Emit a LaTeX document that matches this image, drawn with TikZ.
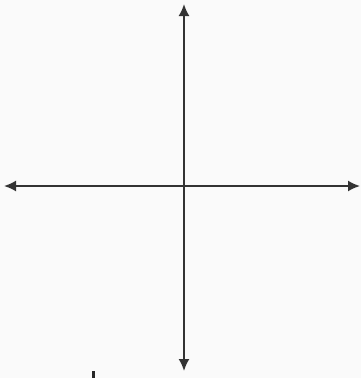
\documentclass[tikz,border=0pt]{standalone}
\usetikzlibrary{arrows.meta}
\begin{document}
\begin{tikzpicture}[x=1pt,y=-1pt,
  axis/.style={line width=1.8pt,draw=black!80,{Latex[length=12pt,width=11pt]}-{Latex[length=12pt,width=11pt]}}]
\fill[black!2] (0,0) rectangle (361,378);
\useasboundingbox (0,0) rectangle (361,378);
\coordinate (top) at (184,4);
\coordinate (bottom) at (184,371);
\coordinate (left) at (4,186);
\coordinate (right) at (360,186);
\draw[axis] (left) -- (right);
\draw[axis] (bottom) -- (top);
\coordinate (m1) at (93.5,371);
\coordinate (m2) at (93.5,378);
\draw[line width=3pt,black!85] (m1) -- (m2);
\end{tikzpicture}
\end{document}
